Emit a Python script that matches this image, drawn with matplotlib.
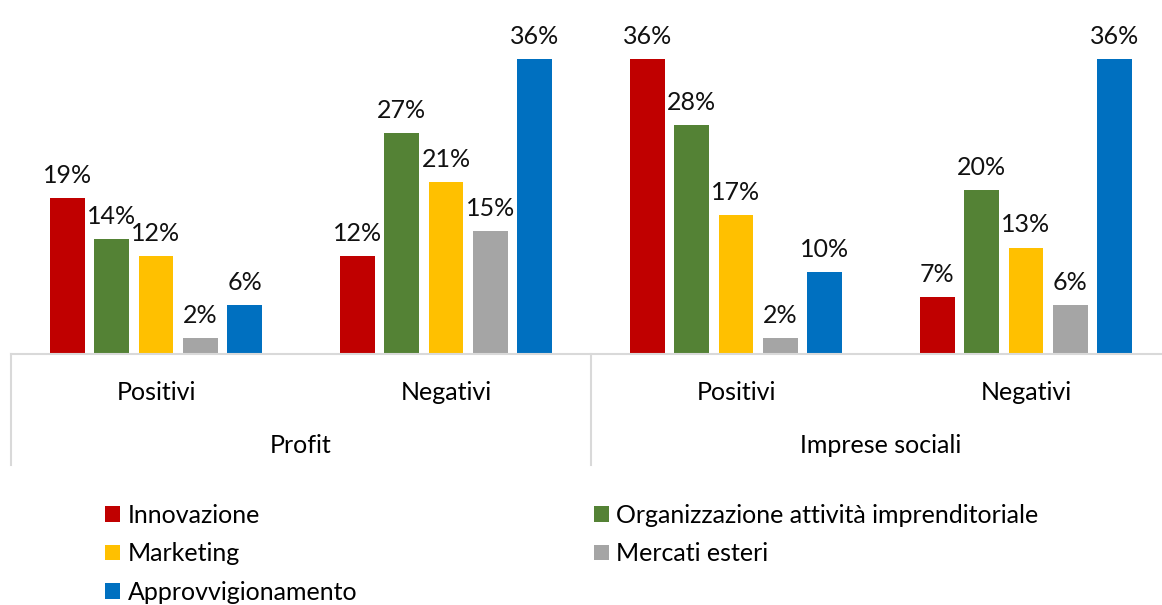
import matplotlib.pyplot as plt
from matplotlib.lines import Line2D
import numpy as np

plt.rcParams['font.family'] = ['Lato', 'DejaVu Sans']

# groups along the x axis
sub_labels = ["Positivi", "Negativi", "Positivi", "Negativi"]
main_labels = ["Profit", "Imprese sociali"]

# series values (%) per group
series_names = ["Innovazione", "Organizzazione attività imprenditoriale",
                "Marketing", "Mercati esteri", "Approvvigionamento"]
innovazione = [19, 12, 36, 7]
organizzazione = [14, 27, 28, 20]
marketing = [12, 21, 17, 13]
mercati_esteri = [2, 15, 2, 6]
approvvigionamento = [6, 36, 10, 36]
colors = ["#C00000", "#548235", "#FFC000", "#A5A5A5", "#0070C0"]

values = [innovazione, organizzazione, marketing, mercati_esteri, approvvigionamento]

FS = 18
fig = plt.figure(figsize=(11.62, 6.05), dpi=100)
W, H = 1162, 605
ax = fig.add_axes([11 / W, 1 - 354 / H, 1160 / W, (354 - 20) / H])

x = np.arange(len(sub_labels))
step = 0.153
width = 0.12
handles = []
for i, (name, vals, col) in enumerate(zip(series_names, values, colors)):
    pos = x + (i - 2) * step
    b = ax.bar(pos, vals, width, color=col, label=name)
    handles.append(b)
    for p, v in zip(pos, vals):
        ax.annotate(f"{v}%", (p, v), xytext=(0, 8), textcoords="offset points",
                    ha="center", va="bottom", fontsize=FS, color="#111111")

ax.set_xlim(-0.5, 3.5)
ax.set_ylim(0, 40.8)
ax.set_yticks([])
ax.set_xticks([])
for s in ["top", "right", "left"]:
    ax.spines[s].set_visible(False)
ax.spines["bottom"].set_color("#D9D9D9")
ax.spines["bottom"].set_linewidth(1.5)

# two-level category axis
tr = ax.get_xaxis_transform()
for xi, lab in zip(x, sub_labels):
    ax.text(xi, -0.114, lab, transform=tr, ha="center", va="center", fontsize=FS)
for k, lab in enumerate(main_labels):
    ax.text(2 * k + 0.5, -0.275, lab, transform=tr, ha="center", va="center", fontsize=FS)
for xs in [-0.5, 1.5, 3.5]:
    ax.add_line(Line2D([xs, xs], [0, -0.332], transform=tr, color="#D9D9D9",
                       lw=1.5, clip_on=False))

# legend in two columns
left_items = [0, 2, 4]
right_items = [1, 3]
common = dict(frameon=False, fontsize=FS, handlelength=0.6, handleheight=0.6,
              handletextpad=0.3, labelspacing=0.61, borderaxespad=0, borderpad=0)
fig.legend([handles[i] for i in left_items], [series_names[i] for i in left_items],
           loc="upper left", bbox_to_anchor=(105 / W, 1 - 504 / H), **common)
fig.legend([handles[i] for i in right_items], [series_names[i] for i in right_items],
           loc="upper left", bbox_to_anchor=(594 / W, 1 - 504 / H), **common)

fig.savefig("out.png", dpi=100)
